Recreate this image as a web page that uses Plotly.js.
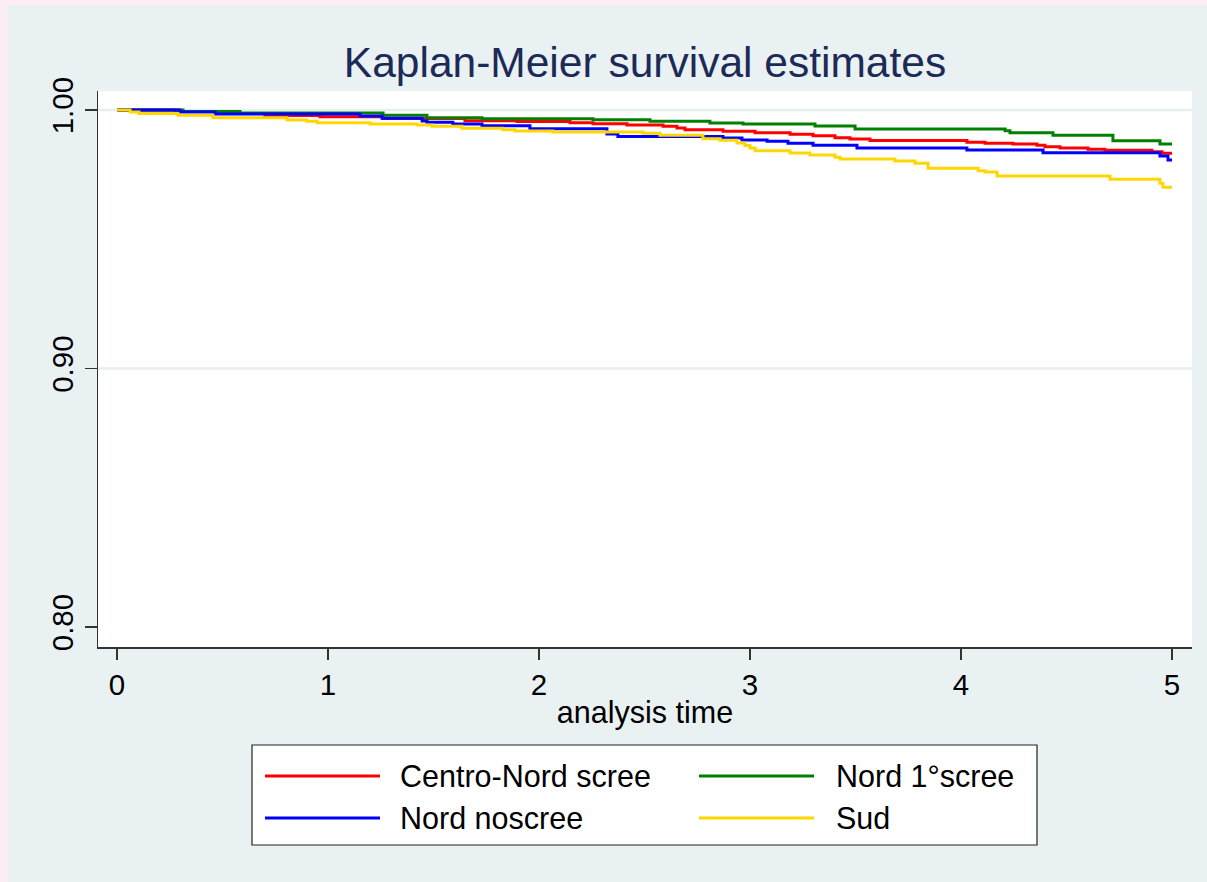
<!DOCTYPE html>
<html>
<head>
<meta charset="utf-8">
<script src="https://cdn.plot.ly/plotly-3.0.1.min.js"></script>
<style>
  html, body { margin: 0; padding: 0; background: #fcedf5; width: 1207px; height: 882px; overflow: hidden; }
  #chart { position: absolute; left: 8px; top: 5px; width: 1199px; height: 877px; }
</style>
</head>
<body>
<div id="chart"></div>
<script>
// ---- Data ----
const seriesNames = ["Centro-Nord scree", "Nord 1°scree", "Nord noscree", "Sud"];

const timeCentroNord = [0, 0.275, 0.465, 0.701, 0.962, 1.261, 1.649, 1.896, 2.147, 2.256, 2.417, 2.588, 2.654, 2.692, 2.872, 3.024, 3.190, 3.299, 3.403, 3.474, 3.569, 4.028, 4.114, 4.246, 4.360, 4.398, 4.469, 4.602, 4.682, 4.905, 4.953, 5.0];
const survCentroNord = [1.0, 0.99942, 0.99865, 0.99787, 0.99741, 0.99671, 0.99586, 0.99555, 0.99509, 0.99470, 0.99420, 0.99369, 0.99304, 0.99238, 0.99176, 0.99122, 0.99060, 0.99006, 0.98928, 0.98878, 0.98820, 0.98750, 0.98712, 0.98685, 0.98634, 0.98580, 0.98530, 0.98480, 0.98441, 0.98387, 0.98327, 0.98327];

const timeNord1 = [0, 0.313, 0.583, 1.261, 1.469, 1.730, 2.256, 2.526, 2.810, 2.967, 3.308, 3.498, 4.209, 4.232, 4.436, 4.720, 4.943, 5.0];
const survNord1 = [1.0, 0.99942, 0.99884, 0.99795, 0.99702, 0.99663, 0.99625, 0.99563, 0.99497, 0.99458, 0.99381, 0.99265, 0.99199, 0.99122, 0.99021, 0.98812, 0.98685, 0.98685];

const timeNordNo = [0, 0.299, 0.465, 1.152, 1.256, 1.446, 1.469, 1.592, 1.730, 1.957, 2.322, 2.374, 2.872, 2.962, 3.081, 3.180, 3.299, 3.507, 4.028, 4.389, 4.943, 4.981, 5.0];
const survNordNo = [1.0, 0.99923, 0.99845, 0.99768, 0.99679, 0.99574, 0.99524, 0.99458, 0.99393, 0.99273, 0.99072, 0.98975, 0.98917, 0.98839, 0.98789, 0.98712, 0.98634, 0.98530, 0.98453, 0.98348, 0.98221, 0.98066, 0.98066];

const timeSud = [0, 0.062, 0.104, 0.289, 0.455, 0.806, 0.900, 0.948, 1.199, 1.422, 1.493, 1.635, 1.829, 1.886, 2.066, 2.493, 2.573, 2.777, 2.858, 2.938, 2.976, 3.000, 3.024, 3.190, 3.284, 3.403, 3.427, 3.687, 3.782, 3.844, 4.081, 4.114, 4.171, 4.706, 4.943, 4.957, 5.0];
const survSud = [1.0, 0.99923, 0.99865, 0.99795, 0.99702, 0.99613, 0.99563, 0.99509, 0.99458, 0.99420, 0.99369, 0.99292, 0.99238, 0.99188, 0.99149, 0.99099, 0.99021, 0.98890, 0.98828, 0.98723, 0.98627, 0.98530, 0.98426, 0.98337, 0.98259, 0.98170, 0.98104, 0.98027, 0.97938, 0.97745, 0.97652, 0.97602, 0.97447, 0.97319, 0.97164, 0.97010, 0.97010];

const xTickVals = [0, 1, 2, 3, 4, 5];
const yTickVals = [0.80, 0.90, 1.00];
const yTickText = ["0.80", "0.90", "1.00"];
const yGridVals = [0.90, 1.00];

// ---- Styling ----
const colors = { "Centro-Nord scree": "#ff0000", "Nord 1°scree": "#008000", "Nord noscree": "#0000ff", "Sud": "#ffd700" };
const FONT = "Liberation Sans, Arial, Helvetica, sans-serif";
const W = 1199, H = 877;
const M = { l: 90, r: 15, t: 86, b: 235 };
const plotW = W - M.l - M.r, plotH = H - M.t - M.b;
const px = (x) => (x - M.l) / plotW;     // div pixel -> paper x
const py = (y) => (H - M.b - y) / plotH; // div pixel -> paper y

const seriesData = [
  { name: "Centro-Nord scree", x: timeCentroNord, y: survCentroNord },
  { name: "Nord 1°scree", x: timeNord1, y: survNord1 },
  { name: "Nord noscree", x: timeNordNo, y: survNordNo },
  { name: "Sud", x: timeSud, y: survSud }
];

const traces = seriesData.map(s => ({
  type: "scatter", mode: "lines", name: s.name,
  x: s.x, y: s.y,
  line: { shape: "hv", color: colors[s.name], width: 3 },
  showlegend: false, hoverinfo: "x+y+name"
}));

const shapes = [];
// Grid lines at labelled values (Stata omits the one at the axis minimum)
yGridVals.forEach(v => shapes.push({
  type: "line", xref: "paper", yref: "y", x0: 0, x1: 1, y0: v, y1: v,
  line: { color: "#e6eef1", width: 2.5 }, layer: "below"
}));

// Custom legend box (Stata style)
shapes.push({
  type: "rect", xref: "paper", yref: "paper",
  x0: px(244), x1: px(1029), y0: py(740), y1: py(840),
  line: { color: "#222", width: 1.2 }, fillcolor: "#ffffff", layer: "above"
});
const legendSlots = [
  { name: seriesNames[0], lx: 257, tx: 390, y: 771 },
  { name: seriesNames[1], lx: 691, tx: 826, y: 771 },
  { name: seriesNames[2], lx: 257, tx: 390, y: 813 },
  { name: seriesNames[3], lx: 691, tx: 826, y: 813 }
];
const annotations = [];
legendSlots.forEach(s => {
  shapes.push({
    type: "line", xref: "paper", yref: "paper",
    x0: px(s.lx), x1: px(s.lx + 115), y0: py(s.y), y1: py(s.y),
    line: { color: colors[s.name], width: 3.2 }, layer: "above"
  });
  annotations.push({
    xref: "paper", yref: "paper", x: px(s.tx), y: py(s.y),
    xanchor: "left", yanchor: "middle", showarrow: false,
    text: s.name, font: { family: FONT, size: 30.5, color: "#000" }
  });
});

const layout = {
  width: W, height: H,
  margin: M,
  paper_bgcolor: "#eaf1f3",
  plot_bgcolor: "#ffffff",
  font: { family: FONT, color: "#000" },
  title: {
    text: "Kaplan-Meier survival estimates",
    font: { family: FONT, size: 42.5, color: "#1c2a58" },
    xref: "paper", x: 0.5, xanchor: "center",
    yref: "container", y: 1 - 57 / H, yanchor: "middle"
  },
  xaxis: {
    range: [-0.090, 5.0948],
    tickvals: xTickVals,
    ticks: "outside", ticklen: 11, tickwidth: 1.5, tickcolor: "#333",
    showline: true, linecolor: "#333", linewidth: 1.5,
    showgrid: false, zeroline: false,
    tickfont: { family: FONT, size: 29.5, color: "#000" },
    title: { text: "analysis time", font: { family: FONT, size: 30.5, color: "#000" }, standoff: 1 }
  },
  yaxis: {
    range: [0.79226, 1.00735],
    tickvals: yTickVals, ticktext: yTickText,
    tickangle: -90,
    ticks: "outside", ticklen: 12, tickwidth: 1.5, tickcolor: "#333",
    showline: true, linecolor: "#333", linewidth: 1.5,
    showgrid: false, zeroline: false,
    tickfont: { family: FONT, size: 29.5, color: "#000" }
  },
  shapes: shapes,
  annotations: annotations,
  showlegend: false
};

Plotly.newPlot("chart", traces, layout, { displayModeBar: false, staticPlot: true });
</script>
</body>
</html>
